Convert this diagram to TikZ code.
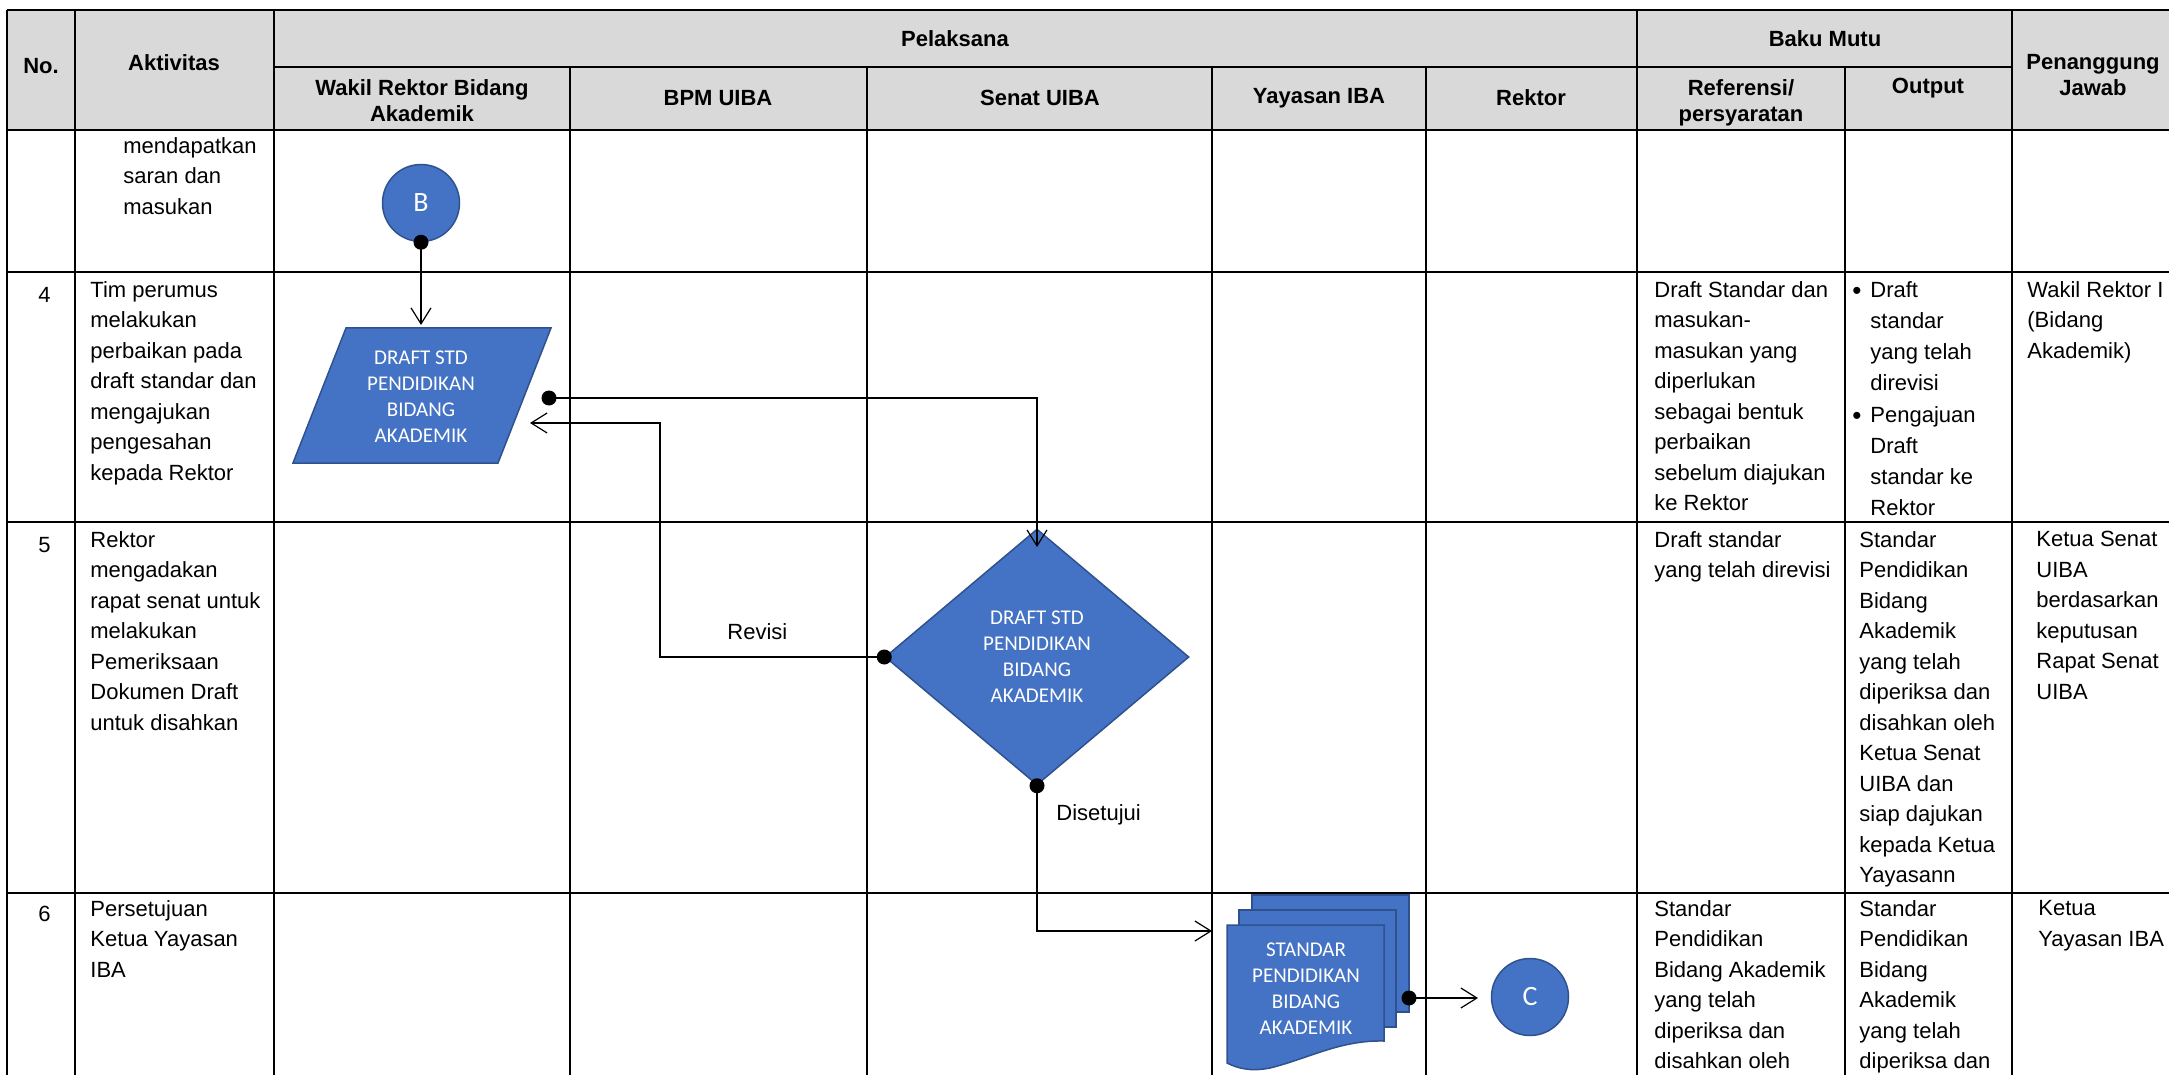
\documentclass[tikz,border=0pt]{standalone}
\usepackage{fontspec}
\setmainfont{Liberation Sans}
\newfontfamily\shapefont{Carlito}
\usetikzlibrary{arrows.meta,shapes.geometric,positioning}

\definecolor{headgray}{HTML}{D9D9D9}
\definecolor{shapeblue}{HTML}{4472C4}
\definecolor{shapeedge}{HTML}{2F528F}

\newcommand{\cellfont}{\fontsize{11}{15.25}\selectfont}
\newcommand{\listfont}{\fontsize{11}{15.6}\selectfont}
\newcommand{\headfont}{\fontsize{11}{13}\selectfont\bfseries}
\newcommand{\boxfont}{\shapefont\fontsize{10.5}{13}\selectfont}
\newcommand{\listdot}{\raisebox{1.6pt}{\fontsize{13}{13}\selectfont\textbullet}}

\tikzset{
  gridline/.style={line width=1.1pt},
  cell/.style={inner sep=0pt, align=left, anchor=north west, font=\cellfont, execute at begin node=\strut},
  head/.style={inner sep=0pt, align=center, font=\headfont},
  bluebox/.style={fill=shapeblue, draw=shapeedge, line width=0.75pt},
  boxtext/.style={inner sep=0pt, align=center, text=white, font=\boxfont},
  offpage/.style={bluebox, circle, minimum size=38.5pt, inner sep=0pt, text=white, font=\shapefont\fontsize{14}{14}\selectfont},
  joint/.style={circle, fill=black, inner sep=0pt, minimum size=7.5pt},
  conn/.style={line width=0.6pt},
  flow/.style={conn, -{Straight Barb[length=8pt,width=10pt]}}
}

\begin{document}
\begin{tikzpicture}[x=0.5pt, y=-0.5pt]
\useasboundingbox (0,0) rectangle (2169,1075);

% header background
\fill[headgray] (7,10) rectangle (2169,130);

% table lines
\draw[gridline] (7,10) -- (2169,10);
\draw[gridline] (274,67) -- (2012,67);
\draw[gridline] (7,130) -- (2169,130);
\draw[gridline] (7,272) -- (2169,272);
\draw[gridline] (7,522) -- (2169,522);
\draw[gridline] (7,893) -- (2169,893);

\draw[gridline] (7,10) -- (7,1075);
\draw[gridline] (75,10) -- (75,1075);
\draw[gridline] (274,10) -- (274,1075);
\draw[gridline] (570,67) -- (570,1075);
\draw[gridline] (867,67) -- (867,1075);
\draw[gridline] (1212,67) -- (1212,1075);
\draw[gridline] (1426,67) -- (1426,1075);
\draw[gridline] (1637,10) -- (1637,1075);
\draw[gridline] (1845,67) -- (1845,1075);
\draw[gridline] (2012,10) -- (2012,1075);

% header
\node[head] (hNo) at (41,66) {No.};
\node[head] (hAkt) at (174,63) {Aktivitas};
\node[head] (hPel) at (955,39) {Pelaksana};
\node[head] (hBaku) at (1825,39) {Baku Mutu};
\node[head] (hPj) at (2093,75) {Penanggung\\Jawab};
\node[head] (hWr) at (422,101) {Wakil Rektor Bidang\\Akademik};
\node[head] (hBpm) at (718,98) {BPM UIBA};
\node[head] (hSenat) at (1040,98) {Senat UIBA};
\node[head] (hYay) at (1319,98) {Yayasan IBA};
\node[head] (hRek) at (1531,98) {Rektor};
\node[head] (hRef) at (1741,103) {Referensi/\\persyaratan};
\node[head] (hOut) at (1928,88) {Output};

% row B
\node[cell] (tB) at (123,137) {mendapatkan\\saran dan\\masukan};

% row 4
\node[cell] (n4) at (38,281) {4};
\node[cell] (t4) at (90,281) {Tim perumus\\melakukan\\perbaikan pada\\draft standar dan\\mengajukan\\pengesahan\\kepada Rektor};
\node[cell] (r4) at (1654,281) {Draft Standar dan\\masukan-\\masukan yang\\diperlukan\\sebagai bentuk\\perbaikan\\sebelum diajukan\\ke Rektor};
\node[cell] (b4a) at (1852,281) {\listdot};
\node[cell] (b4b) at (1852,406) {\listdot};
\node[cell, font=\listfont] (o4) at (1870,281) {Draft\\standar\\yang telah\\direvisi\\Pengajuan\\Draft\\standar ke\\Rektor};
\node[cell] (p4) at (2027,281) {Wakil Rektor I\\(Bidang\\Akademik)};

% row 5
\node[cell] (n5) at (38,531) {5};
\node[cell] (t5) at (90,531) {Rektor\\mengadakan\\rapat senat untuk\\melakukan\\Pemeriksaan\\Dokumen Draft\\untuk disahkan};
\node[cell] (r5) at (1654,531) {Draft standar\\yang telah direvisi};
\node[cell] (o5) at (1859,531) {Standar\\Pendidikan\\Bidang\\Akademik\\yang telah\\diperiksa dan\\disahkan oleh\\Ketua Senat\\UIBA dan\\siap dajukan\\kepada Ketua\\Yayasann};
\node[cell] (p5) at (2036,531) {Ketua Senat\\UIBA\\berdasarkan\\keputusan\\Rapat Senat\\UIBA};

% row 6
\node[cell] (n6) at (38,900) {6};
\node[cell] (t6) at (90,900) {Persetujuan\\Ketua Yayasan\\IBA};
\node[cell] (r6) at (1654,900) {Standar\\Pendidikan\\Bidang Akademik\\yang telah\\diperiksa dan\\disahkan oleh};
\node[cell] (o6) at (1859,900) {Standar\\Pendidikan\\Bidang\\Akademik\\yang telah\\diperiksa dan};
\node[cell] (p6) at (2038,900) {Ketua\\Yayasan IBA};

% flow shapes
\node[offpage] (cB) at (421,203) {B};

\coordinate (pgTL) at (346,328);
\coordinate (pgTR) at (551,328);
\coordinate (pgBR) at (498,463);
\coordinate (pgBL) at (293,463);
\draw[bluebox] (pgTL) -- (pgTR) -- (pgBR) -- (pgBL) -- cycle;
\node[boxtext] (pg) at (421,397) {DRAFT STD\\PENDIDIKAN\\BIDANG\\AKADEMIK};

\node[bluebox, boxtext, diamond, minimum width=152pt, minimum height=128pt] (dm) at (1037,657) {DRAFT STD\\PENDIDIKAN\\BIDANG\\AKADEMIK};

\draw[bluebox] (1252,895) rectangle (1409,1012);
\draw[bluebox] (1239,910) rectangle (1396,1027);
\draw[bluebox] (1227,925) -- (1384,925) -- (1384,1041)
  .. controls (1340,1040) and (1310,1058) .. (1270,1068)
  .. controls (1250,1072) and (1237,1068) .. (1227,1063) -- cycle;
\node[boxtext] (doc) at (1306,989) {STANDAR\\PENDIDIKAN\\BIDANG\\AKADEMIK};

\node[offpage] (cC) at (1530,997) {C};

% connection points
\coordinate (pgTop) at (421,325);
\coordinate (pgIn) at (530,423);
\coordinate (dmIn) at (1037,547);
\coordinate (revBend) at (660,423);
\coordinate (docIn) at (1212,931);
\coordinate (cIn) at (1478,998);

% connectors
\draw[flow] (cB.south) -- (pgTop);
\draw[flow] (549,398) -| (dmIn);
\draw[flow] (dm.west) -| (revBend) -- (pgIn);
\draw[flow] (dm.south) |- (docIn);
\draw[flow] (1409,998) -- (cIn);

\node[joint] (jB) at (cB.south) {};
\node[joint] (jPg) at (549,398) {};
\node[joint] (jDmL) at (dm.west) {};
\node[joint] (jDmB) at (dm.south) {};
\node[joint] (jDoc) at (1409,998) {};

\node[cell] (lRev) at (727,618) {Revisi};
\node[cell] (lSet) at (1056,799) {Disetujui};
\end{tikzpicture}
\end{document}
